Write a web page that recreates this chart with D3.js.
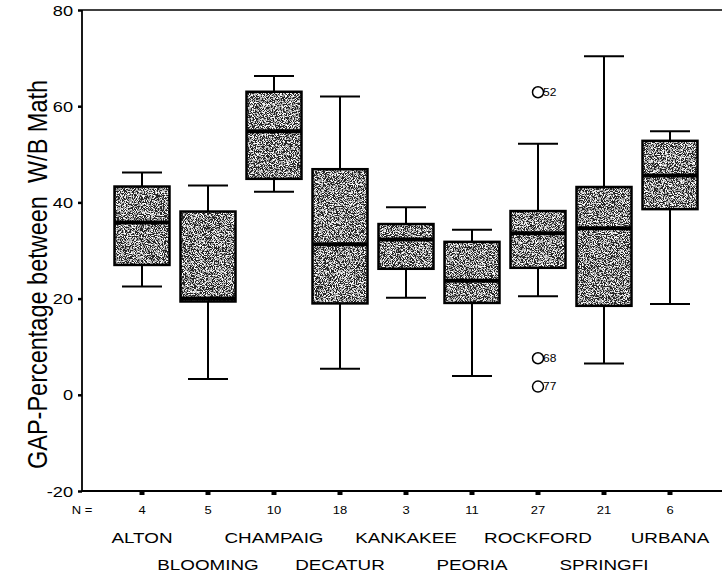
<!DOCTYPE html>
<html>
<head>
<meta charset="utf-8">
<script src="https://cdn.jsdelivr.net/npm/d3@7/dist/d3.min.js"></script>
<style>
  html, body { margin: 0; padding: 0; background: #fff; }
  svg { display: block; }
  text { font-family: "Liberation Sans", Arial, Helvetica, sans-serif; fill: #000; }
</style>
</head>
<body>
<svg id="chart" width="722" height="579"></svg>
<script>
// GAP in W/B math percentage, by district
const categories = ["ALTON", "BLOOMING", "CHAMPAIG", "DECATUR", "KANKAKEE", "PEORIA", "ROCKFORD", "SPRINGFI", "URBANA"];
const counts      = [4, 5, 10, 18, 3, 11, 27, 21, 6];
const whiskerLow  = [22.5, 3.3, 42.2, 5.4, 20.2, 3.9, 20.5, 6.5, 18.9];
const q1          = [27.0, 19.4, 44.9, 19.0, 26.2, 19.1, 26.4, 18.5, 38.6];
const median      = [35.8, 20.0, 54.8, 31.3, 32.3, 23.7, 33.6, 34.6, 45.6];
const q3          = [43.3, 38.1, 63.0, 46.9, 35.5, 31.8, 38.2, 43.2, 52.8];
const whiskerHigh = [46.2, 43.5, 66.3, 62.0, 39.0, 34.3, 52.2, 70.4, 54.8];
const outliers = [
  { category: "ROCKFORD", value: 62.9, id: "52" },
  { category: "ROCKFORD", value: 7.6,  id: "68" },
  { category: "ROCKFORD", value: 1.7,  id: "77" }
];
const yTicks = [-20, 0, 20, 40, 60, 80];

const svg = d3.select("#chart");
const plotLeft = 82, plotRight = 745, plotTop = 10, plotBottom = 491;
const stretch = 1.3; // wide lettering of the print

const x = d3.scalePoint().domain(categories).range([142, 670]);
const y = d3.scaleLinear().domain([-20, 80]).range([plotBottom, plotTop]);
const boxW = 55, capW = 40;

// grainy halftone fill for the boxes
const defs = svg.append("defs");
const f = defs.append("filter").attr("id", "grain")
  .attr("x", 0).attr("y", 0).attr("width", "100%").attr("height", "100%");
f.append("feTurbulence").attr("type", "fractalNoise").attr("baseFrequency", 1.1)
  .attr("numOctaves", 3).attr("seed", 7).attr("result", "noise");
f.append("feColorMatrix").attr("in", "noise").attr("type", "matrix")
  .attr("values", "1 0 0 0 0  1 0 0 0 0  1 0 0 0 0  0 0 0 0 1").attr("result", "gray");
// stretch the contrast of the noise
const lin = f.append("feComponentTransfer").attr("in", "gray").attr("result", "contrast");
["feFuncR", "feFuncG", "feFuncB"].forEach(fn =>
  lin.append(fn).attr("type", "linear").attr("slope", 4).attr("intercept", -1.7));
// quantise to dark / mid / light specks
const ct = f.append("feComponentTransfer").attr("in", "contrast").attr("result", "speck");
["feFuncR", "feFuncG", "feFuncB"].forEach(fn =>
  ct.append(fn).attr("type", "discrete").attr("tableValues", "0.02 0.25 0.42 0.58 0.78 1"));
f.append("feComposite").attr("in", "speck").attr("in2", "SourceGraphic").attr("operator", "in");

// frame: top line, left axis, bottom axis
svg.append("line").attr("x1", plotLeft).attr("x2", plotRight).attr("y1", plotTop).attr("y2", plotTop)
  .attr("stroke", "#000").attr("stroke-width", 1.6);
svg.append("line").attr("x1", plotLeft).attr("x2", plotLeft).attr("y1", plotTop).attr("y2", plotBottom)
  .attr("stroke", "#000").attr("stroke-width", 1.8);
svg.append("line").attr("x1", plotLeft).attr("x2", plotRight).attr("y1", plotBottom).attr("y2", plotBottom)
  .attr("stroke", "#000").attr("stroke-width", 2);

// y axis ticks and labels
const yAxis = svg.append("g").attr("transform", `translate(${plotLeft},0)`)
  .call(d3.axisLeft(y).tickValues(yTicks).tickSize(4).tickPadding(0).tickFormat(d => String(d)));
yAxis.select(".domain").remove();
yAxis.selectAll(".tick line").attr("stroke-width", 2.5);
yAxis.selectAll(".tick text").attr("x", 0).attr("dy", null).attr("dominant-baseline", "central")
  .attr("font-size", 14).attr("text-anchor", "end")
  .attr("transform", `translate(-9,0) scale(${stretch},1)`);

// y axis title
svg.append("text")
  .attr("transform", `translate(37,${(plotTop + plotBottom) / 2 + 24}) scale(1.15,1) rotate(-90)`)
  .attr("text-anchor", "middle").attr("dominant-baseline", "central")
  .attr("font-size", 23.5)
  .attr("xml:space", "preserve")
  .text("GAP-Percentage between  W/B Math");

// x axis tick marks
svg.append("g").selectAll("rect").data(categories).join("rect")
  .attr("x", d => x(d) - 2.5).attr("y", plotBottom).attr("width", 5).attr("height", 4).attr("fill", "#000");

// N counts
svg.append("text").attr("transform", `translate(82,514) scale(${stretch},1)`)
  .attr("text-anchor", "middle").attr("font-size", 10).text("N =");
svg.append("g").selectAll("text").data(categories).join("text")
  .attr("transform", (d) => `translate(${x(d)},514) scale(${stretch},1)`)
  .attr("text-anchor", "middle").attr("font-size", 10)
  .text((d, i) => counts[i]);

// category labels, staggered on two rows
svg.append("g").selectAll("text").data(categories).join("text")
  .attr("transform", (d, i) => `translate(${x(d)},${i % 2 === 0 ? 543 : 570}) scale(${stretch},1)`)
  .attr("text-anchor", "middle").attr("font-size", 14.5)
  .text(d => d);

// boxes
const g = svg.append("g").selectAll("g").data(categories).join("g");
// whiskers
g.append("line").attr("x1", d => x(d)).attr("x2", d => x(d))
  .attr("y1", (d, i) => y(whiskerHigh[i])).attr("y2", (d, i) => y(q3[i]))
  .attr("stroke", "#000").attr("stroke-width", 2);
g.append("line").attr("x1", d => x(d)).attr("x2", d => x(d))
  .attr("y1", (d, i) => y(q1[i])).attr("y2", (d, i) => y(whiskerLow[i]))
  .attr("stroke", "#000").attr("stroke-width", 2);
g.append("line").attr("x1", d => x(d) - capW / 2).attr("x2", d => x(d) + capW / 2)
  .attr("y1", (d, i) => y(whiskerHigh[i])).attr("y2", (d, i) => y(whiskerHigh[i]))
  .attr("stroke", "#000").attr("stroke-width", 2);
g.append("line").attr("x1", d => x(d) - capW / 2).attr("x2", d => x(d) + capW / 2)
  .attr("y1", (d, i) => y(whiskerLow[i])).attr("y2", (d, i) => y(whiskerLow[i]))
  .attr("stroke", "#000").attr("stroke-width", 2);
// grainy fill
g.append("rect").attr("x", d => x(d) - boxW / 2).attr("width", boxW)
  .attr("y", (d, i) => y(q3[i])).attr("height", (d, i) => y(q1[i]) - y(q3[i]))
  .attr("fill", "#777").attr("filter", "url(#grain)");
// box outline
g.append("rect").attr("x", d => x(d) - boxW / 2).attr("width", boxW)
  .attr("y", (d, i) => y(q3[i])).attr("height", (d, i) => y(q1[i]) - y(q3[i]))
  .attr("fill", "none").attr("stroke", "#000").attr("stroke-width", 2.5);
// median
g.append("line").attr("x1", d => x(d) - boxW / 2).attr("x2", d => x(d) + boxW / 2)
  .attr("y1", (d, i) => y(median[i])).attr("y2", (d, i) => y(median[i]))
  .attr("stroke", "#000").attr("stroke-width", 4);

// outliers
const o = svg.append("g").selectAll("g").data(outliers).join("g");
o.append("circle").attr("cx", d => x(d.category)).attr("cy", d => y(d.value)).attr("r", 5.5)
  .attr("fill", "#fff").attr("stroke", "#000").attr("stroke-width", 1.5);
o.append("text").attr("transform", d => `translate(${x(d.category) + 5},${y(d.value)}) scale(1.2,1)`)
  .attr("dominant-baseline", "central").attr("font-size", 10).text(d => d.id);
</script>
</body>
</html>
